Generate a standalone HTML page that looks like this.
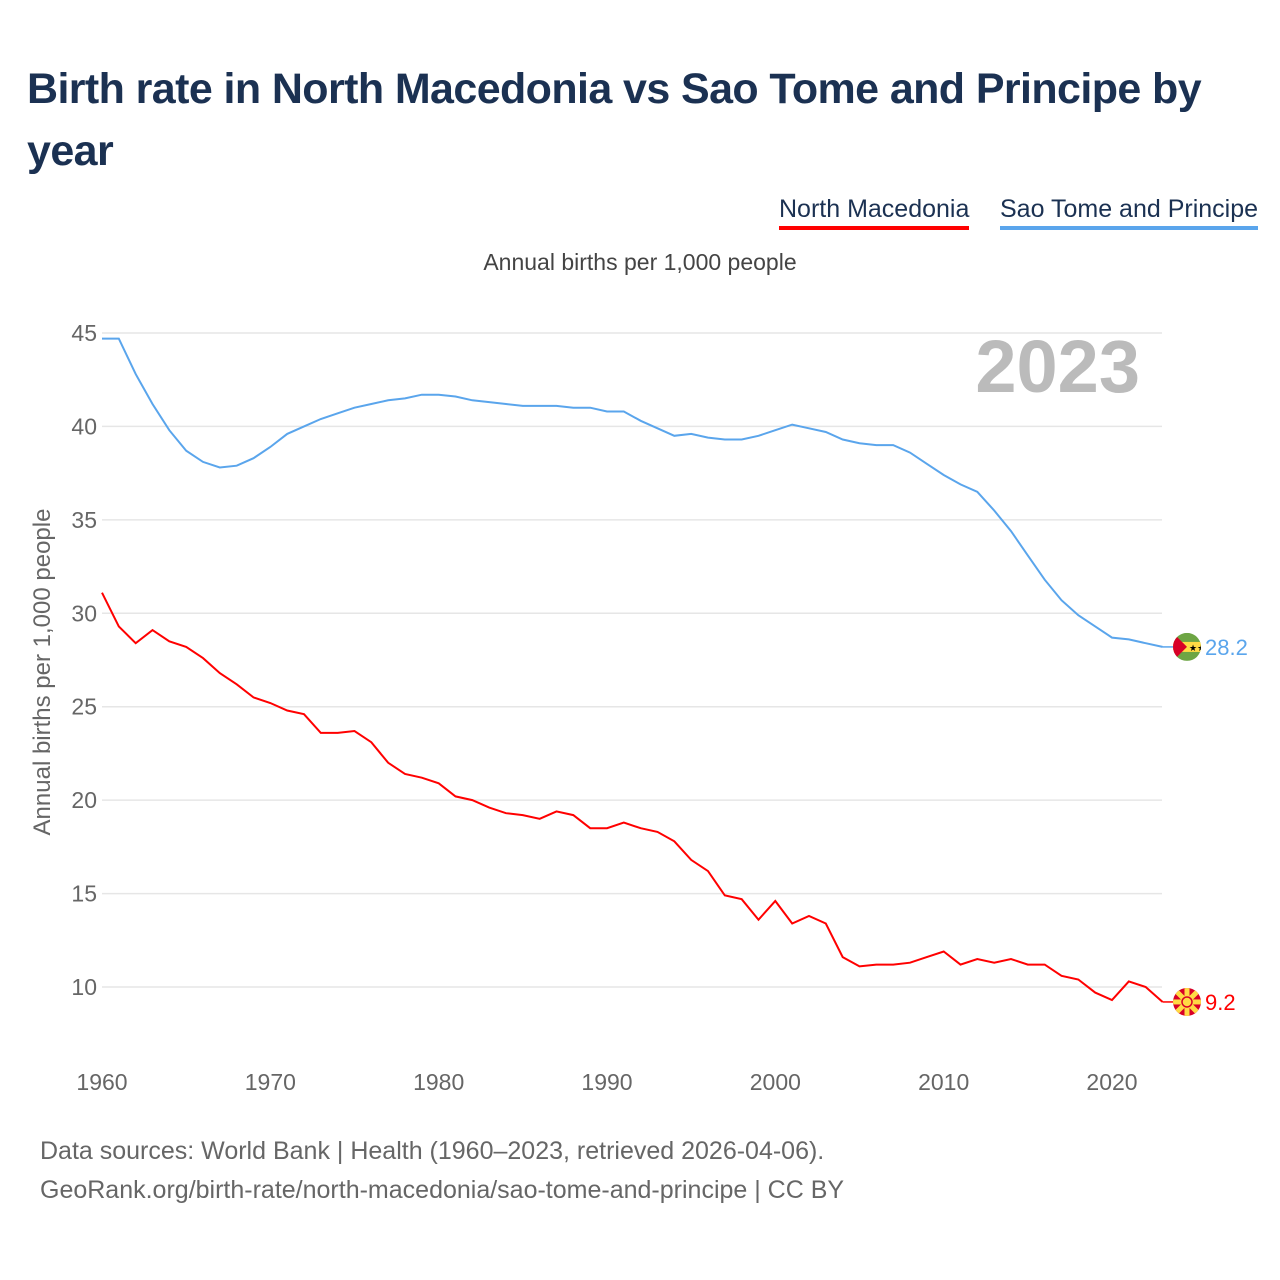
<!DOCTYPE html>
<html><head><meta charset="utf-8">
<style>
body{margin:0;background:#fff;font-family:"Liberation Sans",sans-serif;}
#wrap{position:relative;width:1280px;height:1280px;overflow:hidden;}
h1{position:absolute;left:27px;top:58px;margin:0;font-size:43px;line-height:62px;color:#1b3152;font-weight:bold;width:1240px;letter-spacing:-0.6px}
.leg{position:absolute;top:195px;font-size:25px;color:#1b3152;padding-bottom:2px}
.foot{position:absolute;left:40px;font-size:25px;color:#666}
</style></head><body>
<div id="wrap">
<h1>Birth rate in North Macedonia vs Sao Tome and Principe by year</h1>
<div class="leg" style="left:779px;border-bottom:4px solid #ff0000">North Macedonia</div>
<div class="leg" style="left:1000px;border-bottom:4px solid #5aa5ec">Sao Tome and Principe</div>
<div class="foot" style="top:1137px">Data sources: World Bank | Health (1960–2023, retrieved 2026-04-06).</div>
<div class="foot" style="top:1176px">GeoRank.org/birth-rate/north-macedonia/sao-tome-and-principe | CC BY</div>
<svg id="svg" width="1280" height="1280" style="position:absolute;left:0;top:0"></svg>
</div>
<script>
const years=[];for(let y=1960;y<=2023;y++)years.push(y);
const stp=[44.7,44.7,42.8,41.2,39.8,38.7,38.1,37.8,37.9,38.3,38.9,39.6,40.0,40.4,40.7,41.0,41.2,41.4,41.5,41.7,41.7,41.6,41.4,41.3,41.2,41.1,41.1,41.1,41.0,41.0,40.8,40.8,40.3,39.9,39.5,39.6,39.4,39.3,39.3,39.5,39.8,40.1,39.9,39.7,39.3,39.1,39.0,39.0,38.6,38.0,37.4,36.9,36.5,35.5,34.4,33.1,31.8,30.7,29.9,29.3,28.7,28.6,28.4,28.2];
const mkd=[31.1,29.3,28.4,29.1,28.5,28.2,27.6,26.8,26.2,25.5,25.2,24.8,24.6,23.6,23.6,23.7,23.1,22.0,21.4,21.2,20.9,20.2,20.0,19.6,19.3,19.2,19.0,19.4,19.2,18.5,18.5,18.8,18.5,18.3,17.8,16.8,16.2,14.9,14.7,13.6,14.6,13.4,13.8,13.4,11.6,11.1,11.2,11.2,11.3,11.6,11.9,11.2,11.5,11.3,11.5,11.2,11.2,10.6,10.4,9.7,9.3,10.3,10.0,9.2];
const yTicks=[10,15,20,25,30,35,40,45];
const xTicks=[1960,1970,1980,1990,2000,2010,2020];
const X=y=>102+(y-1960)*(1010/60);
const Y=v=>333+(45-v)*(654/35);
const svg=document.getElementById('svg');const NS='http://www.w3.org/2000/svg';
function mk(t,a,txt){const e=document.createElementNS(NS,t);for(const k in a)e.setAttribute(k,a[k]);if(txt!==undefined)e.textContent=txt;svg.appendChild(e);return e;}
yTicks.forEach(v=>{
 const l=mk('line',{x1:102,x2:1162,y1:Y(v),y2:Y(v),stroke:'#e6e6e6','stroke-width':1.5});
 
 
 const t=mk('text',{x:97,y:Y(v)+8,'text-anchor':'end','font-size':23,fill:'#666'},v);
 
 
});
xTicks.forEach(v=>{
 const t=mk('text',{x:X(v),y:1090,'text-anchor':'middle','font-size':23,fill:'#666'},v);
 
 
});
const yt=mk('text',{x:0,y:0,transform:'translate(50,672) rotate(-90)','text-anchor':'middle','font-size':24,fill:'#666'},'Annual births per 1,000 people');


const st=mk('text',{x:640,y:270,'text-anchor':'middle','font-size':23,fill:'#444'},'Annual births per 1,000 people');


const yr=mk('text',{x:1140,y:392,'text-anchor':'end','font-size':74,'font-weight':'bold',fill:'#bbb'},'2023');


function series(d,c,name){
 const p=mk('path',{d:d.map((v,i)=>(i?'L':'M')+X(years[i]).toFixed(1)+','+Y(v).toFixed(1)).join(''),fill:'none',stroke:c,'stroke-width':2});
 
 
 const last=d[d.length-1];const ly=Y(last);
 mk('line',{x1:X(2023),x2:1175,y1:ly,y2:ly,stroke:c,'stroke-width':1.5});
 const t=mk('text',{x:1205,y:ly+8,'font-size':22,fill:c},last.toFixed(1));
 
 
 return ly;
}
const ly1=series(stp,'#5aa5ec','sao-tome');
const ly2=series(mkd,'#ff0000','north-macedonia');
const g1=document.createElementNS(NS,'g');svg.appendChild(g1);
g1.innerHTML=`<defs><clipPath id="c1"><circle cx="1187" cy="${ly1}" r="14"/></clipPath><clipPath id="c2"><circle cx="1187" cy="${ly2}" r="14"/></clipPath></defs>
<g clip-path="url(#c1)"><rect x="1173" y="${ly1-14}" width="28" height="28" fill="#6da544"/><rect x="1173" y="${ly1-5}" width="28" height="10" fill="#ffda44"/><polygon points="1173,${ly1-14} 1187,${ly1} 1173,${ly1+14}" fill="#d80027"/><text x="1189" y="${ly1+4}" font-size="9" fill="#000">★★</text></g>
<g clip-path="url(#c2)"><rect x="1173" y="${ly2-14}" width="28" height="28" fill="#d80027"/>
${[0,45,90,135].map(a=>`<rect x="1171" y="${ly2-2.5}" width="32" height="5" fill="#ffda44" transform="rotate(${a} 1187 ${ly2})"/>`).join('')}
<circle cx="1187" cy="${ly2}" r="5" fill="#ffda44" stroke="#d80027" stroke-width="1.5"/></g>`;
</script>
</body></html>
